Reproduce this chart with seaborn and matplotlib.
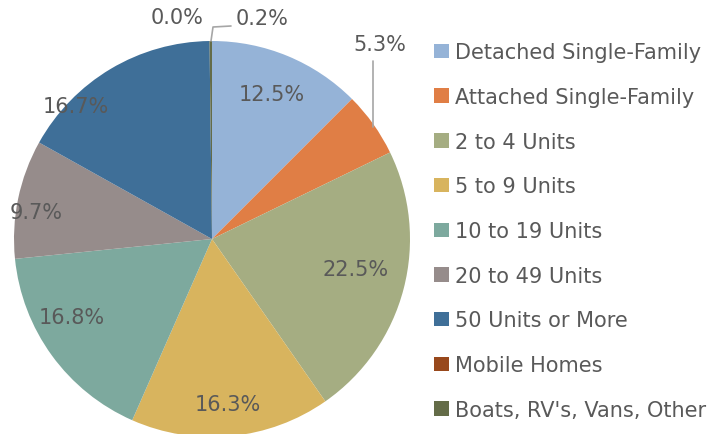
import matplotlib
matplotlib.use("Agg")
import matplotlib.pyplot as plt
import seaborn as sns

categories = ["Detached Single-Family", "Attached Single-Family", "2 to 4 Units",
              "5 to 9 Units", "10 to 19 Units", "20 to 49 Units",
              "50 Units or More", "Mobile Homes", "Boats, RV's, Vans, Other"]
shares = [12.5, 5.3, 22.5, 16.3, 16.8, 9.7, 16.7, 0.0, 0.2]
pct_labels = ["12.5%", "5.3%", "22.5%", "16.3%", "16.8%", "9.7%", "16.7%", "0.0%", "0.2%"]

colors = ["#95B3D7", "#E07E45", "#A5AD82", "#D8B45E", "#7DA99E",
          "#968C8B", "#3F6F98", "#98481C", "#646C48"]

sns.set_theme(style="white")
plt.rcParams["font.family"] = ["DejaVu Sans"]
text_col = "#595959"

W, H = 716, 435
fig = plt.figure(figsize=(W / 100, H / 100), dpi=100)
ax = fig.add_axes([0, 0, 1, 1])

# pie centre/radius in pixel units (y measured from bottom)
cx, cy, r = 212, H - 240, 198
wedges, _ = ax.pie(shares, colors=sns.color_palette(colors), startangle=90,
                   counterclock=False, center=(cx, cy), radius=r,
                   wedgeprops=dict(linewidth=0), normalize=True, frame=True)
ax.set_xlim(0, W)
ax.set_ylim(0, H)
ax.set_aspect("equal")
ax.axis("off")

# label positions (pixels from top-left), hand placed like Excel's best fit
label_pos = [(272, 95), (380, 45), (356, 270), (228, 405), (72, 318),
             (36, 213), (76, 107), (177, 18), (262, 19)]
for txt, (x, y) in zip(pct_labels, label_pos):
    ax.text(x, H - y, txt, ha="center", va="center", fontsize=15, color=text_col)

# leader lines
ax.plot([373, 373], [H - 62, H - 128], color="#A6A6A6", lw=1.2)
ax.plot([211, 213, 231], [H - 42, H - 28, H - 27], color="#A6A6A6", lw=1.2)

leg = ax.legend(wedges, categories, loc="upper left",
                bbox_to_anchor=(426 / W, 1 - 35 / H), frameon=False,
                fontsize=15, handlelength=0.7, handleheight=0.7,
                handletextpad=0.3, labelspacing=1.185, borderaxespad=0)
for t in leg.get_texts():
    t.set_color(text_col)

fig.savefig("out.png", dpi=100)
